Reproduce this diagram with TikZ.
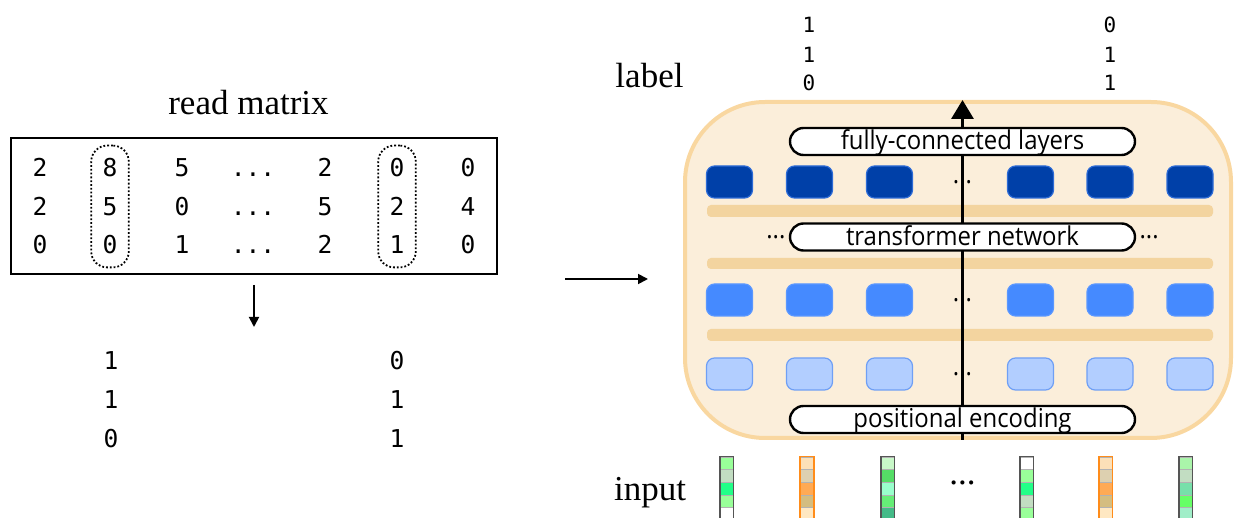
\documentclass[tikz,border=0pt]{standalone}
\usepackage{fontspec}
\usepackage{tikz}
\usetikzlibrary{arrows.meta, shapes.misc, positioning, fit}
\setmainfont{Liberation Serif}
\newfontfamily\pillfont[FakeStretch=0.92]{Open Sans}
\newfontfamily\digitfont{DejaVu Sans Mono}
\newcommand\mdots{...}
\definecolor{modelfill}{HTML}{FBEEDA}
\definecolor{modeledge}{HTML}{F9D7A0}
\definecolor{stripfill}{HTML}{F3D49F}
\definecolor{deepblue}{HTML}{0040A8}
\definecolor{deepedge}{HTML}{2D6BD6}
\definecolor{midblue}{HTML}{458AFF}
\definecolor{midedge}{HTML}{5A97FF}
\definecolor{paleblue}{HTML}{B2CEFF}
\definecolor{paleedge}{HTML}{6F9FF5}
\definecolor{greenrim}{HTML}{555555}
\definecolor{orangerim}{HTML}{FF8C1A}

\begin{document}
\begin{tikzpicture}[x=0.5pt, y=-0.5pt,
            digit/.style = {font=\digitfont\fontsize{12.3}{14}\selectfont, inner sep=0pt, text height=9pt, text depth=0pt},
            smalldigit/.style = {font=\digitfont\fontsize{10.5}{12}\selectfont, inner sep=0pt, text height=7.6pt, text depth=0pt},
            caption/.style = {font=\fontsize{17.5}{20}\selectfont, inner sep=0pt, anchor=base},
            pill/.style = {rounded rectangle, draw, fill=white, line width=1.2pt, minimum width=172.5pt,
                           inner sep=0pt, text height=11pt, text depth=2.5pt, font=\pillfont\fontsize{13}{15}\selectfont},
            dots/.style = {font=\pillfont\fontsize{13}{15}\selectfont, inner sep=0pt},
            unit/.style = {rounded corners=4pt, minimum width=23pt, minimum height=16pt, inner sep=0pt, line width=0.6pt},
            deep/.style = {unit, fill=deepblue, draw=deepedge},
            mid/.style = {unit, fill=midblue, draw=midedge},
            pale/.style = {unit, fill=paleblue, draw=paleedge},
            strip/.style = {fill=stripfill, rounded corners=2pt},
            cell/.style = {minimum width=6.5pt, minimum height=6.35pt, inner sep=0pt, draw=black!30, line width=0.3pt},
            smallarrow/.style = {-{Triangle[length=5pt, width=5pt]}, line width=0.9pt},
            bigarrow/.style = {-{Triangle[length=9.5pt, width=11pt]}, line width=1.6pt}
                        ]
            \clip (0,0) rectangle (1239,518);
            % read matrix
            \node (title) [caption] at (248.5,115) {read matrix};
            \node (mat) [draw, line width=1pt, minimum width=243pt, minimum height=68pt] at (254,206) {};
            \foreach \x/\a/\b/\c [count=\j] in {40/2/2/0, 110/8/5/0, 182/5/0/1, 253/\mdots/\mdots/\mdots, 325/2/5/2, 397/0/2/1, 468/0/4/0} {
                \node (m-1-\j) [digit] at (\x,168) {\a};
                \node (m-2-\j) [digit] at (\x,206.5) {\b};
                \node (m-3-\j) [digit] at (\x,245) {\c};
            }
            \node (col-a) [fit=(m-1-2)(m-3-2), draw, densely dotted, line width=0.9pt, rounded corners=8pt, inner xsep=5.5pt, inner ysep=6.5pt] {};
            \node (col-b) [fit=(m-1-6)(m-3-6), draw, densely dotted, line width=0.9pt, rounded corners=8pt, inner xsep=5.5pt, inner ysep=6.5pt] {};
            % labels
            \coordinate (mat-out) at (254,327);
            \draw[smallarrow] ([yshift=-5pt]mat.south) -- (mat-out);
            \foreach \x/\a/\b/\c [count=\j] in {111/1/1/0, 397/0/1/1} {
                \node (v-1-\j) [digit] at (\x,361) {\a};
                \node (v-2-\j) [digit] at (\x,399.5) {\b};
                \node (v-3-\j) [digit] at (\x,439) {\c};
            }
            % into the model
            \coordinate (feed-in) at (565,279);
            \coordinate (feed-out) at (648,279);
            \draw[smallarrow] (feed-in) -- (feed-out);
            % model
            \node (model) [draw=modeledge, fill=modelfill, line width=2pt, rounded corners=40pt,
                           minimum width=273pt, minimum height=168pt] at (958,270) {};
            \fill[strip] (707,205) rectangle (1213,217);
            \fill[strip] (707,258) rectangle (1213,269);
            \fill[strip] (707,329) rectangle (1213,341);
            \foreach \row/\y/\tone in {1/182/deep, 2/300/mid, 3/374/pale} {
                \foreach \x [count=\k] in {729.5, 809.5, 889.5, 1030.5, 1110, 1190}
                    \node (u-\row-\k) [\tone] at (\x,\y) {};
                \node (gap-\row) [dots] at (962.5,\y) {\mdots};
            }
            \coordinate (spine) at (962.5,270);
            \draw[bigarrow] (model.south -| spine) -- (model.north -| spine);
            \node (fc) [pill] at (962.5,141.5) {fully-connected layers};
            \node (tn) [pill] at (962.5,237) {transformer network};
            \node (pe) [pill] at (962.5,419.5) {positional encoding};
            \node (tn-left) [dots, left=1.5pt of tn] {\mdots};
            \node (tn-right) [dots, right=1.5pt of tn] {\mdots};
            % label
            \node (lab) [caption] at (649.5,88) {label};
            \foreach \x/\a/\b/\c [count=\j] in {809/1/1/0, 1110/0/1/1} {
                \node (t-1-\j) [smalldigit] at (\x,25) {\a};
                \node (t-2-\j) [smalldigit] at (\x,54.5) {\b};
                \node (t-3-\j) [smalldigit] at (\x,83) {\c};
            }
            % input
            \node (inp) [caption] at (650,501) {input};
            \node (in-gap) [font=\fontsize{17.5}{20}\selectfont, inner sep=0pt] at (962.5,483) {\mdots};
            \foreach \x/\rim/\cells [count=\n] in {
                    726.5/greenrim/{99FF99,C2DDC2,22FF88,99FF99,FFFFFF},
                    807/orangerim/{FCE0B8,DDD0B0,FFAA55,D4BD80,FFE8C2},
                    887.5/greenrim/{C8F8C8,55DD66,99FFCC,66EE77,44BB88},
                    1026.5/greenrim/{FFFFFF,99FF99,22FF88,C2DDC2,99FF99},
                    1105.5/orangerim/{FCE0B8,DDD0B0,FFAA55,D4BD80,FFE8C2},
                    1185.5/greenrim/{AAF5AA,C2DDC2,77E0AA,66FF66,A0EEC8}} {
                \foreach \c [count=\i] in \cells {
                    \definecolor{cellfill}{HTML}{\c}
                    \node (in-\n-\i) [cell, fill=cellfill] at (\x,450.65+12.7*\i) {};
                }
                \draw[\rim, line width=0.8pt] (in-\n-1.north west) rectangle (in-\n-5.south east);
            }
\end{tikzpicture}
\end{document}
